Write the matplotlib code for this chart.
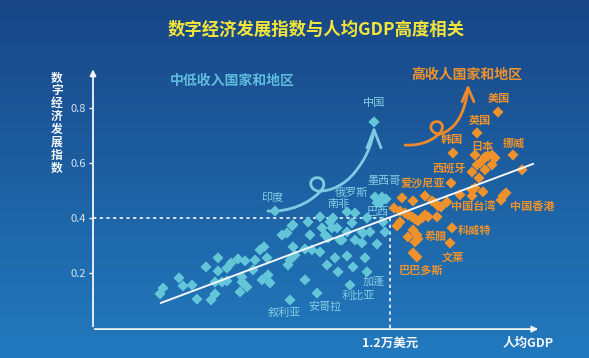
import numpy as np
import matplotlib.pyplot as plt
from matplotlib.path import Path
from matplotlib.patches import PathPatch

plt.rcParams['font.family'] = ['Noto Sans CJK SC', 'DejaVu Sans']

# x: log10(人均GDP, 美元), y: 数字经济发展指数
low_x = [2.93, 2.945, 3.025, 3.045, 3.09, 3.115, 3.16, 3.185, 3.205, 3.22, 3.22, 3.205,
         3.24, 3.265, 3.265, 3.285, 3.32, 3.34, 3.34, 3.33, 3.365, 3.355, 3.395, 3.405,
         3.43, 3.45, 3.44, 3.465, 3.47, 3.48, 3.54, 3.565, 3.59, 3.58, 3.57, 3.58,
         3.605, 3.595, 3.655, 3.655, 3.67, 3.68, 3.69, 3.73, 3.74, 3.755, 3.765, 3.77,
         3.78, 3.79, 3.805, 3.82, 3.83, 3.865, 3.865, 3.865, 3.88, 3.89, 3.895, 3.905,
         3.94, 3.94, 3.955, 3.965, 3.98, 4.015, 4.055, 4.005, 4.04, 4.03, 4.06, 4.015,
         3.715, 3.595, 3.815, 3.84, 3.905, 3.945, 3.73, 3.795, 3.965, 4.045]
low_y = [0.124, 0.145, 0.182, 0.153, 0.156, 0.105, 0.222, 0.102, 0.124, 0.207, 0.255, 0.167,
         0.167, 0.171, 0.218, 0.236, 0.251, 0.185, 0.167, 0.131, 0.149, 0.244, 0.211, 0.247,
         0.284, 0.295, 0.175, 0.255, 0.193, 0.164, 0.338, 0.345, 0.371, 0.247, 0.229, 0.102,
         0.265, 0.295, 0.287, 0.175, 0.385, 0.338, 0.284, 0.276, 0.364, 0.338, 0.229, 0.327,
         0.385, 0.364, 0.255, 0.204, 0.32, 0.422, 0.349, 0.262, 0.156, 0.382, 0.222, 0.418,
         0.349, 0.309, 0.255, 0.204, 0.349, 0.305, 0.349, 0.476, 0.476, 0.455, 0.469, 0.455,
         0.127, 0.375, 0.364, 0.32, 0.32, 0.345, 0.404, 0.4, 0.4, 0.385]

high_x = [4.62, 4.515, 4.395, 4.505, 4.695, 4.555, 4.57, 4.59, 4.605, 4.545, 4.53, 4.515,
          4.59, 4.555, 4.49, 4.74, 4.525, 4.385, 4.49, 4.505, 4.545, 4.49, 4.43, 4.645,
          4.66, 4.635, 4.14, 4.195, 4.255, 4.29, 4.305, 4.32, 4.335, 4.365, 4.1, 4.13,
          4.155, 4.17, 4.19, 4.205, 4.24, 4.255, 4.27, 4.22, 4.315, 4.13, 4.115, 4.39,
          4.195, 4.17, 4.215, 4.22, 4.205, 4.38, 4.195, 4.215]
high_y = [0.785, 0.709, 0.636, 0.629, 0.629, 0.622, 0.625, 0.629, 0.618, 0.611, 0.6, 0.593,
          0.593, 0.575, 0.567, 0.575, 0.545, 0.527, 0.502, 0.509, 0.495, 0.48, 0.484, 0.48,
          0.491, 0.465, 0.473, 0.462, 0.48, 0.462, 0.455, 0.444, 0.44, 0.458, 0.436, 0.425,
          0.418, 0.411, 0.404, 0.396, 0.4, 0.411, 0.404, 0.389, 0.404, 0.385, 0.371, 0.364,
          0.356, 0.331, 0.338, 0.324, 0.313, 0.309, 0.273, 0.258]

china = (4.0, 0.749)
india = (3.505, 0.425)

low_names = ['中国', '印度', '墨西哥', '俄罗斯', '南非', '巴西', '加蓬', '利比亚', '安哥拉', '叙利亚']
low_name_x = [4.0, 3.49, 4.05, 3.885, 3.82, 4.02, 4.0, 3.92, 3.755, 3.55]
low_name_y = [0.818, 0.473, 0.535, 0.491, 0.451, 0.422, 0.167, 0.116, 0.076, 0.055]

high_names = ['美国', '英国', '韩国', '日本', '挪威', '西班牙', '爱沙尼亚', '中国台湾', '中国香港',
              '科威特', '希腊', '文莱', '巴巴多斯']
high_name_x = [4.625, 4.53, 4.39, 4.54, 4.7, 4.375, 4.245, 4.495, 4.79, 4.5, 4.31, 4.395, 4.235]
high_name_y = [0.833, 0.756, 0.684, 0.658, 0.669, 0.582, 0.527, 0.44, 0.44, 0.356, 0.331, 0.258, 0.211]

threshold_gdp = 12000
threshold_index = 0.4
trend_x = [2.935, 4.795]
y_ticks = [0.2, 0.4, 0.6, 0.8]

cyan = '#62c6d8'
cyan_text = '#86cde3'
orange = '#f0922c'
white = '#f2f6fa'

fig = plt.figure(figsize=(5.89, 3.58), dpi=100)

# background gradient
bg = fig.add_axes([0, 0, 1, 1])
grad = np.linspace(0, 1, 256).reshape(-1, 1)
top = np.array([24, 70, 134]) / 255
bot = np.array([34, 122, 190]) / 255
img = top + (bot - top) * grad[:, :, None]
bg.imshow(img, aspect='auto', extent=[0, 1, 0, 1], origin='upper')
bg.axis('off')

ax = fig.add_axes([93 / 589, 30 / 358, 447 / 589, 260 / 358])
ax.set_xlim(2.595, 4.83)
ax.set_ylim(0, 0.945)
ax.patch.set_alpha(0)
for s in ax.spines.values():
    s.set_visible(False)
ax.set_xticks([])
ax.set_yticks(y_ticks)
ax.set_yticklabels([f'{t:.1f}' for t in y_ticks])
ax.tick_params(axis='y', direction='out', length=3, width=1, color=white,
               labelcolor='#d6e4f0', labelsize=8, pad=2)

# axes with arrows
ax.annotate('', xy=(2.595, 0.95), xytext=(2.595, -0.004),
            arrowprops=dict(arrowstyle='-|>', color=white, lw=1.3, mutation_scale=9),
            annotation_clip=False)
ax.annotate('', xy=(4.835, -0.004), xytext=(2.59, -0.004),
            arrowprops=dict(arrowstyle='-|>', color=white, lw=1.3, mutation_scale=9),
            annotation_clip=False)

# dotted threshold lines
thr = np.log10(threshold_gdp)
ax.plot([2.595, thr], [threshold_index, threshold_index], color=white, lw=1.2, ls=(0, (2, 2)))
ax.plot([thr, thr], [0, threshold_index], color=white, lw=1.2, ls=(0, (2, 2)))

# points
ax.scatter(low_x, low_y, marker='D', s=32, color=cyan, edgecolors='none', zorder=3)
ax.scatter(high_x, high_y, marker='D', s=32, color=orange, edgecolors='none', zorder=3)
ax.scatter([china[0]], [china[1]], marker='D', s=32, color=cyan, edgecolors='none', zorder=3)

# trend line
all_x = np.array(low_x + high_x + [china[0]])
all_y = np.array(low_y + high_y + [china[1]])
k, b = np.polyfit(all_x, all_y, 1)
tx = np.array(trend_x)
ax.plot(tx, k * tx + b, color=white, lw=1.4, zorder=4)

# curly arrows
def curly(verts, tip, arms, color):
    codes = [Path.MOVETO] + [Path.CURVE4] * (len(verts) - 1)
    ax.add_patch(PathPatch(Path(verts, codes), fill=False, edgecolor=color, lw=2,
                           capstyle='round', zorder=2))
    for a in arms:
        ax.plot([a[0], tip[0]], [a[1], tip[1]], color=color, lw=2,
                solid_capstyle='round', zorder=2)

cyan_path = [(3.47, 0.425), (3.58, 0.422), (3.67, 0.451), (3.73, 0.495),
             (3.77, 0.524), (3.74, 0.553), (3.705, 0.545),
             (3.67, 0.538), (3.68, 0.502), (3.72, 0.498),
             (3.78, 0.495), (3.855, 0.52), (3.905, 0.567),
             (3.955, 0.611), (3.99, 0.665), (4.0, 0.72)]
curly(cyan_path, (4.0, 0.72), [(3.965, 0.655), (4.035, 0.655)], '#7fcbe2')
ax.scatter([india[0]], [india[1]], marker='D', s=32, color=cyan, edgecolors='none', zorder=3)

orange_path = [(4.155, 0.665), (4.22, 0.662), (4.28, 0.676), (4.32, 0.702),
               (4.36, 0.727), (4.34, 0.756), (4.305, 0.749),
               (4.27, 0.742), (4.28, 0.705), (4.33, 0.705),
               (4.405, 0.72), (4.455, 0.775), (4.47, 0.873)]
curly(orange_path, (4.47, 0.873), [(4.44, 0.822), (4.5, 0.822)], '#ee8a2a')

# labels
for n, x, y in zip(low_names, low_name_x, low_name_y):
    ax.text(x, y, n, color=cyan_text, fontsize=8, ha='center', va='center', zorder=5)
for n, x, y in zip(high_names, high_name_x, high_name_y):
    ax.text(x, y, n, color=orange, fontsize=8, fontweight='bold', ha='center', va='center', zorder=5)

ax.text(3.29, 0.898, '中低收入国家和地区', color='#5fbcdc', fontsize=10, fontweight='bold',
        ha='center', va='center')
ax.text(4.465, 0.92, '高收人国家和地区', color=orange, fontsize=10, fontweight='bold',
        ha='center', va='center')

ax.text(thr, -0.055, '1.2万美元', color=white, fontsize=9, fontweight='bold',
        ha='center', va='center', clip_on=False)
ax.text(4.77, -0.055, '人均GDP', color=white, fontsize=9, fontweight='bold',
        ha='center', va='center', clip_on=False)

# title and vertical y label
fig.text(316 / 589, 1 - 30 / 358, '数字经济发展指数与人均GDP高度相关', color='#f2e43a',
         fontsize=12.5, fontweight='bold', ha='center', va='center')
for i, ch in enumerate('数字经济发展指数'):
    fig.text(57 / 589, 1 - (78 + i * 12.9) / 358, ch, color=white, fontsize=8.5,
             fontweight='bold', ha='center', va='center')

fig.savefig('out.png', dpi=100)
